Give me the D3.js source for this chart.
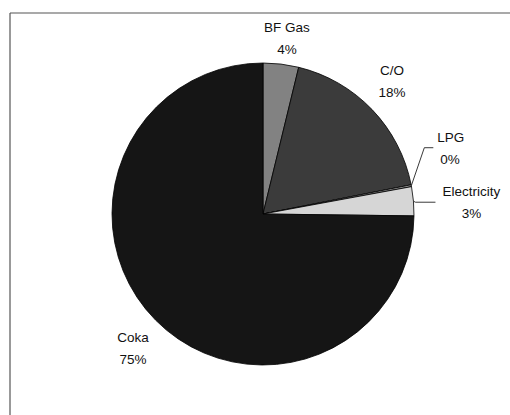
<!DOCTYPE html>
<html>
<head>
<meta charset="utf-8">
<script src="https://cdn.jsdelivr.net/npm/d3@7"></script>
<style>
  body { margin: 0; background: #fff; }
  svg { display: block; }
  text { font-family: "Liberation Sans", Arial, sans-serif; font-size: 13.5px; fill: #111; }
</style>
</head>
<body>
<svg width="510" height="415"></svg>
<script>

// Datos
let categorias = ['BF Gas', 'C/O', 'LPG', 'Electricity', 'Coka']
let valores = [3.8, 18.1, 0.2, 3.1, 74.8]
let grises = ['#828282', '#3b3b3b', '#9a9a9a', '#d6d6d6', '#151515']

let datos = categorias.map((c, i) => ({nombre: c, valor: valores[i], color: grises[i]}))
let total = d3.sum(valores)


/* Lienzo */

let svg = d3.select('svg')

// marco (solo se ve arriba y a la izquierda)
svg.append('line').attr('x1', 10).attr('y1', 13).attr('x2', 510).attr('y2', 13)
  .attr('stroke', '#555').attr('stroke-width', 1.2)
svg.append('line').attr('x1', 10).attr('y1', 13).attr('x2', 10).attr('y2', 415)
  .attr('stroke', '#555').attr('stroke-width', 1.2)

let cx = 263, cy = 214, r = 151

let g = svg.append('g').attr('transform', `translate(${cx}, ${cy})`)

let pie = d3.pie().sort(null).value(d => d.valor)
let arco = d3.arc().innerRadius(0).outerRadius(r)
let arcos = pie(datos)

g.selectAll('path.tajada')
  .data(arcos)
  .enter().append('path')
    .attr('class', 'tajada')
    .attr('d', arco)
    .attr('fill', d => d.data.color)
    .attr('stroke', '#000')
    .attr('stroke-width', 0.8)


/* Etiquetas */

let pct = d => Math.round(d.data.valor / total * 100) + '%'
let medio = d => (d.startAngle + d.endAngle) / 2
let punto = (ang, rad) => [rad * Math.sin(ang), -rad * Math.cos(ang)]

// las chicas van con linea guia
let guias = {
  'LPG': {dx: 13, dy: -38, largo: 9, anclaje: 'start', sep: 4},
  'Electricity': {dx: 2, dy: 1, largo: 20, anclaje: 'middle', sep: 36}
}

// retoques a mano, como en el original
let retoques = {
  'BF Gas': [2, 7],
  'C/O': [-4, -6],
  'Coka': [1, 5]
}

let rLabel = r + 33
let gap = 11

arcos.forEach(d => {
  let a = medio(d)
  let guia = guias[d.data.nombre]
  let lbl = g.append('text').attr('text-anchor', 'middle')
  let x, y

  if (guia) {
    let [x0, y0] = punto(a, r)
    let x1 = x0 + guia.dx, y1 = y0 + guia.dy
    let x2 = x1 + guia.largo
    g.append('polyline')
      .attr('points', `${x0},${y0} ${x1},${y1} ${x2},${y1}`)
      .attr('fill', 'none').attr('stroke', '#222').attr('stroke-width', 0.9)
    x = x2 + guia.sep
    y = y1
    lbl.attr('text-anchor', guia.anclaje)
  } else {
    [x, y] = punto(a, rLabel)
    let [dx, dy] = retoques[d.data.nombre] ?? [0, 0]
    x += dx
    y += dy
  }

  lbl.append('tspan').attr('x', x).attr('y', y - gap + 5).text(d.data.nombre)
  lbl.append('tspan').attr('x', guia && guia.anclaje == 'start' ? x + 3 : x).attr('y', y + gap + 5).text(pct(d))
})

</script>
</body>
</html>
